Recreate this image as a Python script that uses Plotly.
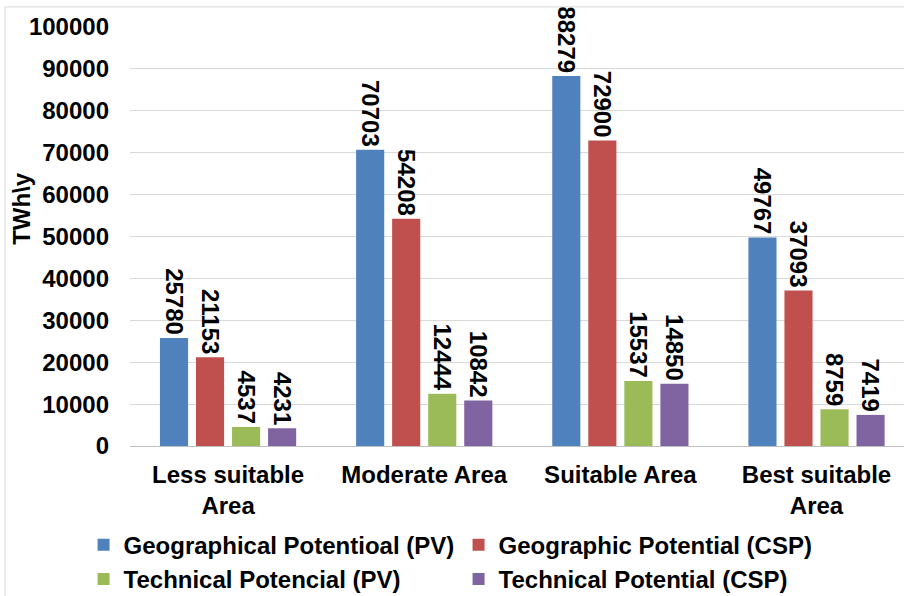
import plotly.graph_objects as go

categories = ["Less suitable<br>Area", "Moderate Area", "Suitable Area", "Best suitable<br>Area"]
series_names = ["Geographical Potentioal (PV)", "Geographic Potential (CSP)",
                "Technical Potencial (PV)", "Technical Potential (CSP)"]
geo_pv = [25780, 70703, 88279, 49767]
geo_csp = [21153, 54208, 72900, 37093]
tech_pv = [4537, 12444, 15537, 8759]
tech_csp = [4231, 10842, 14850, 7419]
colors = ["#4F81BD", "#C0504D", "#9BBB59", "#8064A2"]

FONT = "Liberation Sans, Arial, sans-serif"
FS = 24

fig = go.Figure()
for name, vals, c in zip(series_names, [geo_pv, geo_csp, tech_pv, tech_csp], colors):
    fig.add_trace(go.Bar(
        x=categories, y=vals, name=name, marker=dict(color=c, line=dict(width=0)),
        text=[str(v) for v in vals], textposition="outside", textangle=90,
        constraintext="none", cliponaxis=False,
        textfont=dict(family=FONT, size=FS, color="black", weight="bold"),
    ))

fig.update_layout(
    width=904, height=596,
    margin=dict(l=130, r=0, t=27, b=150, autoexpand=False),
    paper_bgcolor="white", plot_bgcolor="white",
    barmode="group", bargap=0.265, bargroupgap=0.22,
    font=dict(family=FONT, size=FS, color="black", weight="bold"),
    xaxis=dict(range=[-0.5, 3.446], showline=True, linecolor="#BFBFBF", linewidth=1,
               ticks="", automargin=False, ticklabelstandoff=7,
               tickfont=dict(size=FS, weight="bold")),
    yaxis=dict(range=[0, 100000], dtick=10000, showgrid=True, gridcolor="#D9D9D9",
               zeroline=False, ticks="", tickformat="d", ticklabelstandoff=20,
               automargin=False, tickfont=dict(size=FS, weight="bold")),
    legend=dict(orientation="h", x=-0.06, xanchor="left", y=-0.183, yanchor="top",
                font=dict(size=FS, weight="bold"), entrywidth=330, itemwidth=30,
                tracegroupgap=0),
    showlegend=True,
)
fig.add_annotation(text="TWh\\y", xref="paper", yref="paper", x=-0.1395, y=0.566,
                   xanchor="center", yanchor="middle",
                   textangle=-90, showarrow=False,
                   font=dict(size=FS, weight="bold", color="black"))
fig.add_shape(type="rect", xref="paper", yref="paper", x0=-0.1615, x1=1.01, y0=-0.4, y1=1.048,
              line=dict(color="#D9D9D9", width=1))

fig.write_html("out.html", config={"displayModeBar": False},
               post_script="document.body.style.margin='0';document.body.style.overflow='hidden';")
